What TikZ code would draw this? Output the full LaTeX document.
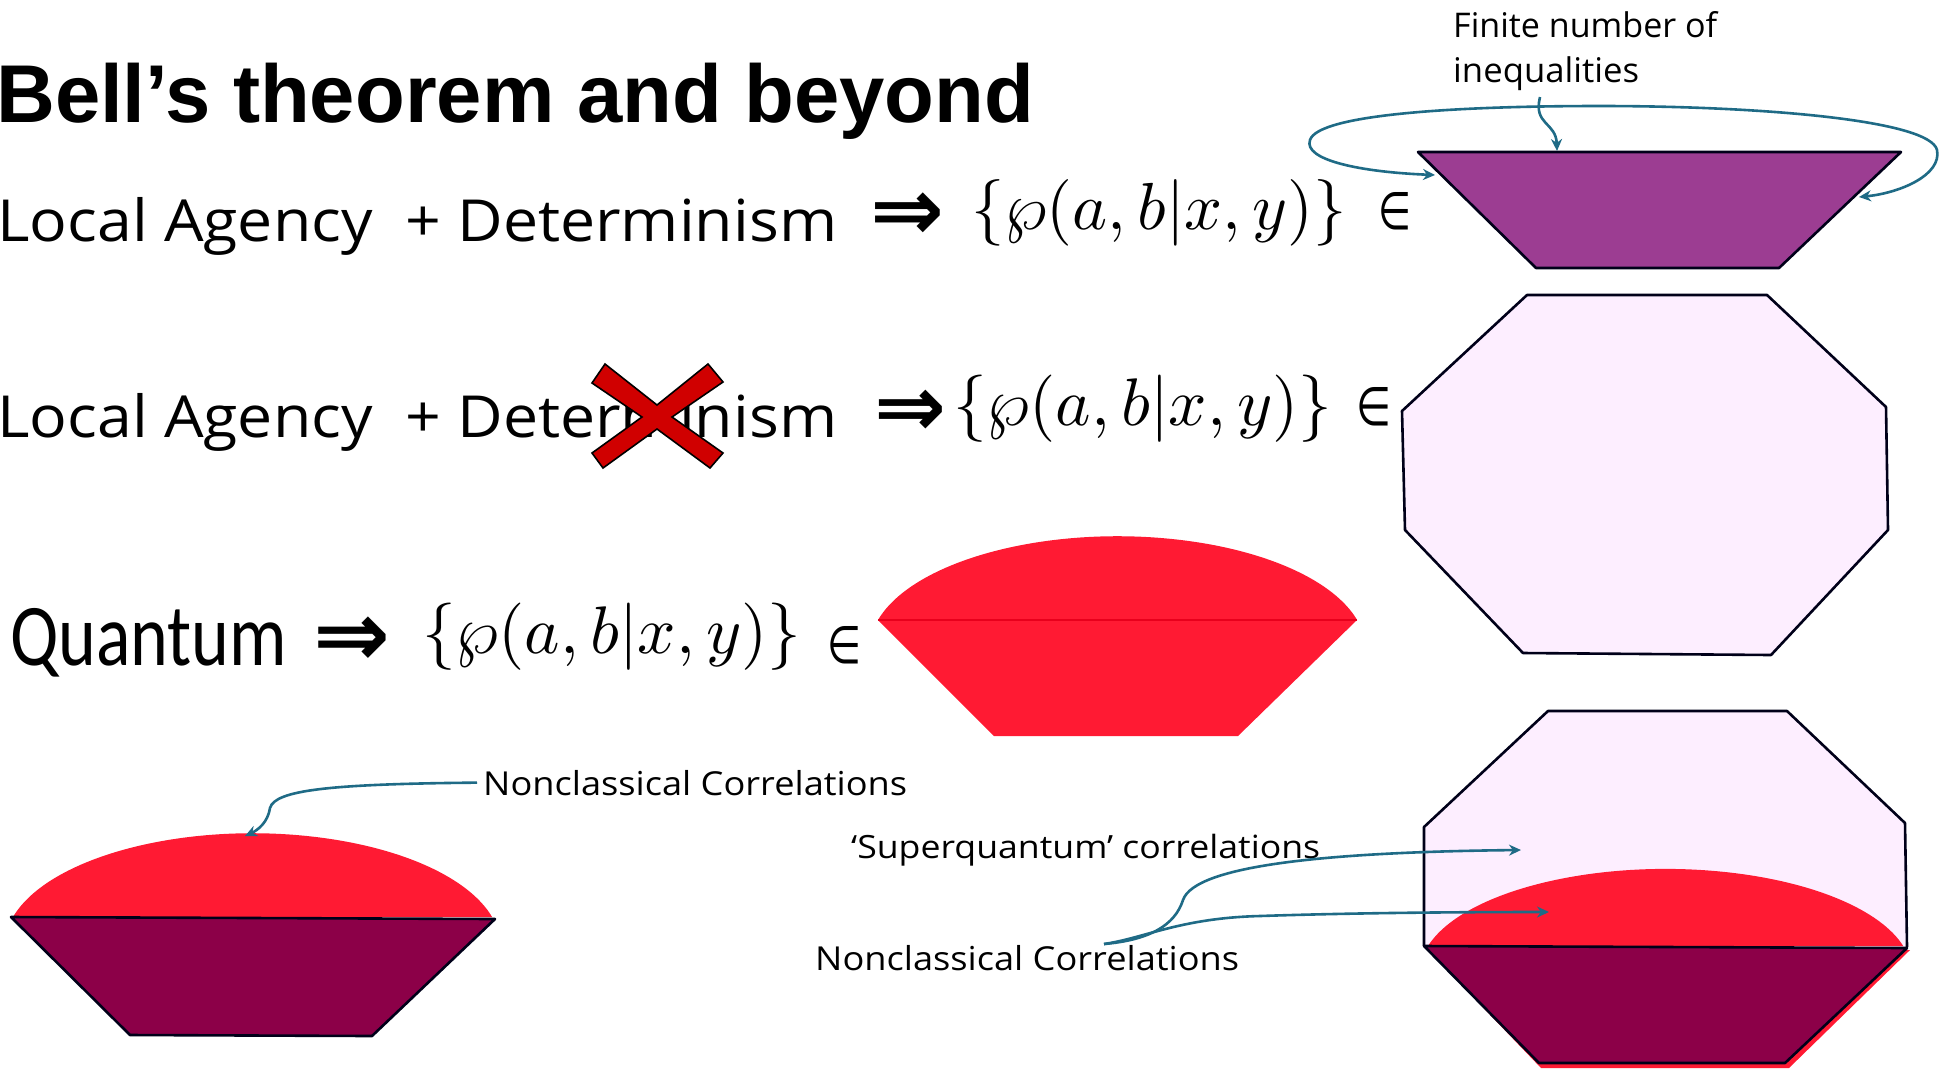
\RequirePackage{fix-cm}
\documentclass[tikz,border=0pt]{standalone}
\usepackage{fontspec}
\setmainfont{Open Sans}
\newfontfamily\titlefont{Liberation Sans}
\newfontfamily\qfont{Carlito}
\newfontfamily\symfont{DejaVu Sans}
\usepackage{graphicx}
\usetikzlibrary{arrows.meta}

\definecolor{purp}{RGB}{156,61,146}
\definecolor{lav}{RGB}{253,238,255}
\definecolor{qred}{RGB}{255,26,51}
\definecolor{qline}{RGB}{232,0,28}
\definecolor{maroon}{RGB}{140,0,72}
\definecolor{tealc}{RGB}{31,107,134}
\definecolor{xred}{RGB}{208,0,0}

\newcommand{\fitw}[3]{\resizebox{#1}{\height}{\fontsize{#2}{#2}\selectfont #3}}

\begin{document}
\begin{tikzpicture}[x=1pt,y=-1pt,
  txt/.style={inner sep=0pt, anchor=base west},
  glyph/.style={inner sep=0pt, anchor=west},
  callout/.style={draw=tealc, line width=2.6pt, -{Stealth[length=12pt,width=11pt]}},
  callouttwo/.style={draw=tealc, line width=2.6pt, {Stealth[length=12pt,width=11pt]}-{Stealth[length=12pt,width=11pt]}},
  outl/.style={draw=black!90!blue, line width=2.6pt, line join=round},
]
\useasboundingbox (0,0) rectangle (1946,1072);
\fill[white] (0,0) rectangle (1946,1072);

% ---------- title ----------
\node[txt] (title) at (-4,122) {\resizebox{1038pt}{\height}{\titlefont\bfseries\fontsize{82}{90}\selectfont Bell’s theorem and beyond}};

% ---------- row 1 ----------
\node[txt] (r1) at (-3,241) {\fitw{840pt}{58}{Local Agency\ \ + Determinism}};
\node[glyph] (r1arr) at (870,217) {\resizebox{74pt}{!}{\symfont\bfseries ⇒}};
\node[glyph] (r1m) at (971,213) {\resizebox{375pt}{!}{$\{\wp(a,b|x,y)\}$}};
\node[glyph] (r1in) at (1378,211) {\resizebox{33pt}{37pt}{\symfont ∈}};

% ---------- row 2 ----------
\node[txt] (r2) at (-3,437) {\fitw{840pt}{58}{Local Agency\ \ + Determinism}};
\node[glyph] (r2arr) at (874,413) {\resizebox{72pt}{!}{\symfont\bfseries ⇒}};
\node[glyph] (r2m) at (953,409) {\resizebox{379pt}{!}{$\{\wp(a,b|x,y)\}$}};
\node[glyph] (r2in) at (1356,407) {\resizebox{35pt}{38pt}{\symfont ∈}};
% red cross
\draw[black, line width=1.6pt, fill=xred, line join=miter]
  (605,364) -- (657,405) -- (708,364) -- (723,382) -- (672,417) -- (723,453) -- (710,468)
  -- (657,429) -- (603,468) -- (592,453) -- (642,417) -- (592,383) -- cycle;

% ---------- row 3 ----------
\node[txt] (r3) at (10,665) {\resizebox{277pt}{\height}{\qfont\fontsize{88}{92}\selectfont Quantum}};
\node[glyph] (r3arr) at (313,642) {\resizebox{77pt}{!}{\symfont\bfseries ⇒}};
\node[glyph] (r3m) at (422,637) {\resizebox{379pt}{!}{$\{\wp(a,b|x,y)\}$}};
\node[glyph] (r3in) at (827,645) {\resizebox{34pt}{37pt}{\symfont ∈}};

% ---------- local polytope (top right) ----------
\draw[outl, fill=purp] (1418,152) -- (1901,152) -- (1779,268) -- (1536,268) -- cycle;
\node[txt] (fin1) at (1453,37) {\fitw{264pt}{34}{Finite number of}};
\node[txt] (fin2) at (1453,82) {\fitw{186pt}{34}{inequalities}};
\coordinate (loopL) at (1435,175);
\coordinate (loopR) at (1859,197);
\coordinate (inqS) at (1540,97);
\coordinate (inqT) at (1557,151);
\draw[callouttwo] (loopL) .. controls (1360,172) and (1303,160) .. (1310,140)
  .. controls (1318,115) and (1450,106) .. (1600,106)
  .. controls (1760,106) and (1930,120) .. (1937,150)
  .. controls (1942,175) and (1900,193) .. (loopR);
\draw[callout] (inqS) .. controls (1533,125) and (1556,122) .. (inqT);

% ---------- no-signalling polytope ----------
\draw[outl, fill=lav] (1527,295) -- (1767,295) -- (1886,407) -- (1888,530) -- (1771,655)
  -- (1523,653) -- (1405,530) -- (1402,411) -- cycle;

% ---------- quantum set ----------
\fill[qred] (878,620) -- (1357,620) -- (1238,736) -- (994,736) -- cycle;
\fill[qred] (878,620) arc[start angle=195, end angle=345, x radius=248, y radius=113] -- cycle;
\draw[qline, line width=1.4pt] (878,620) -- (1357,620);

% ---------- bottom left ----------
\fill[qred] (13,917) arc[start angle=195, end angle=345, x radius=248, y radius=113] -- cycle;
\draw[outl, fill=maroon] (11,917) -- (495,919) -- (372,1036) -- (130,1035) -- cycle;
\node[txt] (nc1) at (483,795) {\fitw{424pt}{33}{Nonclassical Correlations}};
\coordinate (nc1T) at (245,836);
\draw[callout] ([xshift=-6pt]nc1.west) .. controls (330,784) and (275,790) .. (270,808)
  .. controls (268,822) and (258,830) .. (nc1T);

% ---------- bottom right ----------
\draw[outl, fill=lav] (1424,946) -- (1424,827) -- (1548,711) -- (1787,711) -- (1905,823) -- (1907,947);
\fill[qred] (1428,946) arc[start angle=195, end angle=345, x radius=246, y radius=104] -- cycle;
\fill[qred] (1428,950) -- (1910,950) -- (1789,1068) -- (1541,1068) -- cycle;
\draw[outl, fill=maroon] (1424,946) -- (1907,948) -- (1785,1063) -- (1539,1063) -- cycle;

\node[txt] (sq) at (851,858) {\fitw{469pt}{32}{‘Superquantum’ correlations}};
\node[txt] (nc2) at (815,970) {\fitw{424pt}{33}{Nonclassical Correlations}};
\coordinate (nc2S) at (1104,944);
\coordinate (sqT) at (1521,850);
\coordinate (nc2T) at (1549,912);
\draw[callout] (nc2S) .. controls (1150,940) and (1175,925) .. (1183,900)
  .. controls (1195,865) and (1330,852) .. (sqT);
\draw[callout] (nc2S) .. controls (1145,938) and (1180,918) .. (1260,916)
  .. controls (1350,913) and (1450,912) .. (nc2T);
\end{tikzpicture}
\end{document}
